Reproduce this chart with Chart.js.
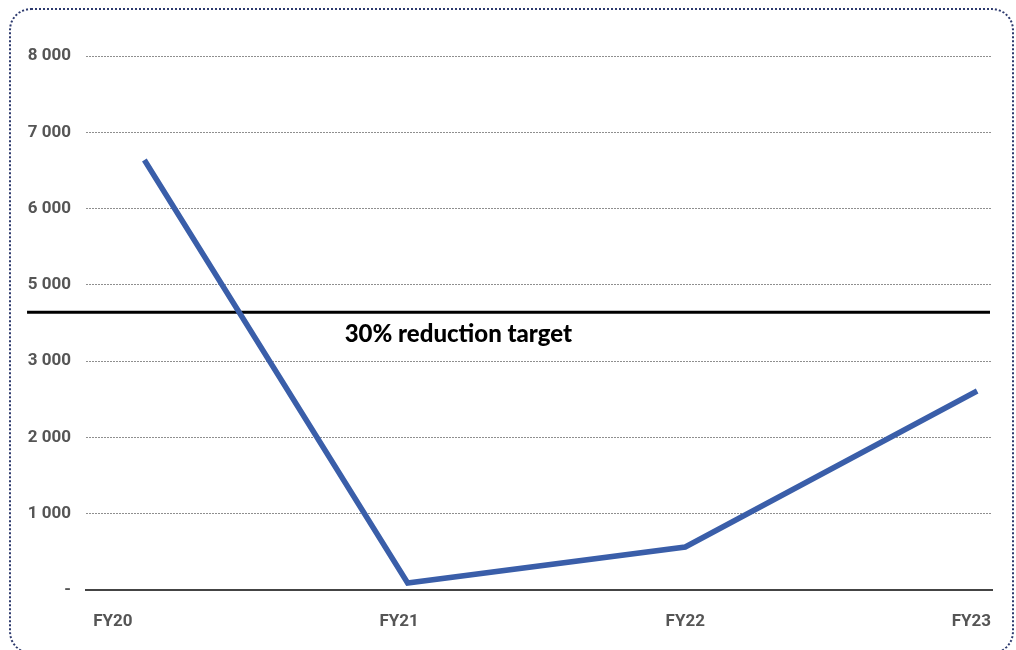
<!DOCTYPE html>
<html>
<head>
<meta charset="utf-8">
<script src="https://cdn.jsdelivr.net/npm/chart.js@4.4.1/dist/chart.umd.min.js"></script>
<style>
  html, body { margin: 0; padding: 0; background: #ffffff; overflow: hidden; }
  #frame {
    position: absolute; left: 9px; top: 8px; width: 1005px; height: 646px;
    box-sizing: border-box; border: 2px dotted #2d3a6e; border-radius: 22px;
  }
  #chart { position: absolute; left: 0; top: 0; }
</style>
</head>
<body>
<div id="frame"></div>
<canvas id="chart" width="1016" height="650"></canvas>
<script>
// Fiscal years and emissions series
const years = ['FY20', 'FY21', 'FY22', 'FY23'];
const yearPos = [0.11, 1.03, 2.0, 3.02];          // where each reading sits along the year axis
const emissions = [6637, 1092, 1564, 3609];

// Reduction target
const targetValue = 4640;
const targetSpan = [-0.3, 3.065];
const targetLabel = '30% reduction target';

// Vertical axis ticks as printed
const yTickValues = [1000, 2000, 3000, 4000, 5000, 6000, 7000, 8000];
const yTickLabels = ['-', '1 000', '2 000', '3 000', '5 000', '6 000', '7 000', '8 000'];
const xTickValues = [0, 1, 2, 3];

const tickFont = { family: 'Roboto', size: 17, weight: 'bold' };

const targetText = {
  id: 'targetText',
  afterDatasetsDraw(chart) {
    const { ctx, scales: { x, y } } = chart;
    ctx.save();
    ctx.font = '900 24px Lato';
    ctx.fillStyle = '#000000';
    ctx.textAlign = 'left';
    ctx.textBaseline = 'alphabetic';
    ctx.fillText(targetLabel, x.getPixelForValue(0.81), y.getPixelForValue(targetValue) + 30);
    ctx.restore();
  }
};

new Chart(document.getElementById('chart'), {
  type: 'line',
  data: {
    datasets: [
      {
        label: 'Emissions',
        data: yearPos.map((p, i) => ({ x: p, y: emissions[i] })),
        borderColor: '#3a5ea9',
        borderWidth: 5.5,
        borderCapStyle: 'butt',
        borderJoinStyle: 'miter',
        pointRadius: 0,
        tension: 0,
        fill: false
      },
      {
        label: targetLabel,
        data: targetSpan.map(p => ({ x: p, y: targetValue })),
        borderColor: '#000000',
        borderWidth: 3,
        borderCapStyle: 'butt',
        pointRadius: 0,
        fill: false,
        clip: false
      }
    ]
  },
  options: {
    responsive: false,
    devicePixelRatio: 1,
    animation: false,
    layout: { padding: { left: 0, top: 56, right: 24, bottom: 0 } },
    plugins: { legend: { display: false }, tooltip: { enabled: false } },
    scales: {
      x: {
        type: 'linear',
        min: -0.094,
        max: 3.072,
        afterFit: s => { s.height = 60; },
        afterBuildTicks: s => { s.ticks = xTickValues.map(v => ({ value: v })); },
        grid: { display: false, drawTicks: false },
        border: { display: true, color: '#444444', width: 2 },
        ticks: {
          padding: 22,
          font: tickFont,
          color: '#555555',
          maxRotation: 0,
          callback: (v, i) => years[i]
        }
      },
      y: {
        type: 'linear',
        min: 1000,
        max: 8000,
        afterFit: s => { s.width = 86; },
        afterBuildTicks: s => { s.ticks = yTickValues.map(v => ({ value: v })); },
        grid: {
          drawTicks: false,
          lineWidth: 1,
          color: ctx => ctx.index === 0 ? 'rgba(0,0,0,0)' : '#8f8f8f'
        },
        border: { display: false, dash: [2, 1] },
        ticks: {
          padding: 15,
          font: tickFont,
          color: '#555555',
          callback: (v, i) => yTickLabels[i]
        }
      }
    }
  },
  plugins: [targetText]
});
</script>
</body>
</html>
